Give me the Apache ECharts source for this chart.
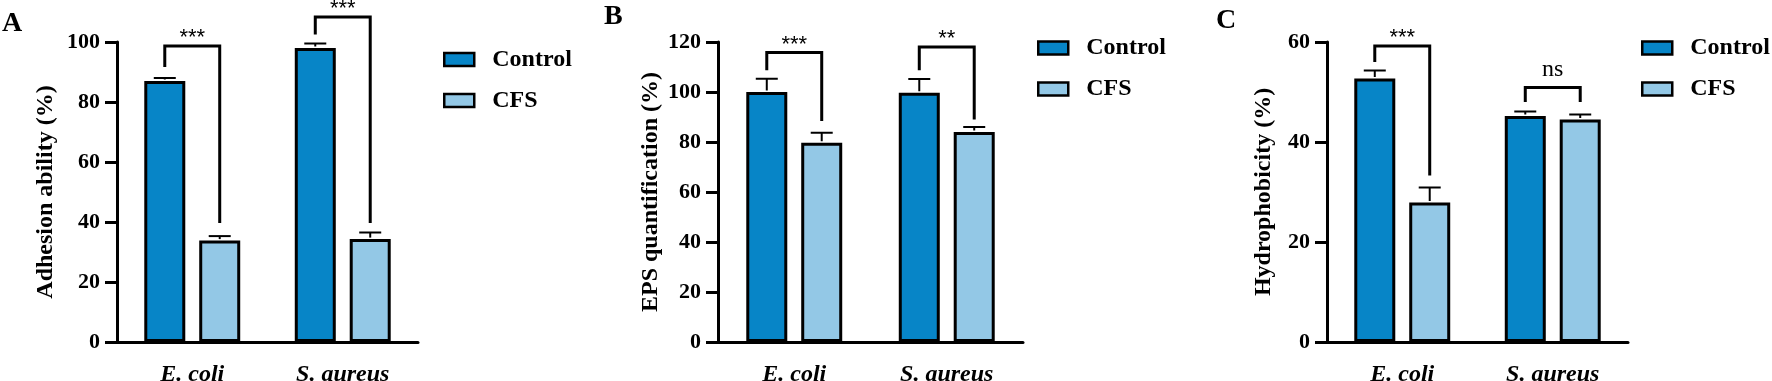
<!DOCTYPE html>
<html lang="en">

<head>
    <meta charset="UTF-8">
    <title>Adhesion, EPS and hydrophobicity</title>
    <script src="https://cdn.jsdelivr.net/npm/echarts@6/dist/echarts.min.js"></script>
    <style>
        body {
            margin: 0;
            background: #fff;
        }

        #root {
            width: 1772px;
            height: 381px;
        }
    </style>
</head>

<body>

    <div id="root"></div>
    <script>

        var categories = ['E. coli', 'S. aureus'];
        var seriesNames = ['Control', 'CFS'];

        // A: adhesion ability (%)
        var adhesionControl = [87, 98];
        var adhesionControlErr = [1, 1.5];
        var adhesionCFS = [33.8, 34.3];
        var adhesionCFSErr = [1.5, 2.2];
        // [top, left leg end, right leg end]
        var adhesionBrackets = [[98.7, 91.7, 39.7], [108.3, 102.5, 39.7]];
        var adhesionSig = ['***', '***'];
        var adhesionTicks = [0, 100, 20];

        // B: EPS quantification (%)
        var epsControl = [100, 99.7];
        var epsControlErr = [5.3, 5.5];
        var epsCFS = [79.7, 84];
        var epsCFSErr = [4, 2];
        var epsBrackets = [[115.8, 108.7, 88.4], [118, 108.7, 89]];
        var epsSig = ['***', '**'];
        var epsTicks = [0, 120, 20];

        // C: hydrophobicity (%)
        var hydroControl = [52.7, 45.2];
        var hydroControlErr = [1.6, 0.9];
        var hydroCFS = [27.9, 44.5];
        var hydroCFSErr = [3, 1];
        var hydroBrackets = [[59.2, 56, 33.3], [50.9, 48, 48]];
        var hydroSig = ['***', 'ns'];
        var hydroTicks = [0, 60, 20];

        var BAR_W = 41;
        var BAR_GAP = 0.34;
        var BAR_STEP = BAR_W * (1 + BAR_GAP);
        var CAP = 22;
        var SERIF = '"Liberation Serif", "Times New Roman", serif';
        var colors = ['#0785c7', '#93c8e6'];

        var mychart = echarts.init(document.getElementById("root"));

        var panels = [
            { left: 117, width: 301, name: 'Adhesion ability (%)', gap: 59, ticks: adhesionTicks,
              ctrl: adhesionControl, ctrlErr: adhesionControlErr, cfs: adhesionCFS, cfsErr: adhesionCFSErr,
              brackets: adhesionBrackets, sig: adhesionSig, legendLeft: 443, legendTop: 47.5, letter: 'A', letterX: 2, letterY: 10 },
            { left: 718, width: 305, name: 'EPS quantification (%)', gap: 55, ticks: epsTicks,
              ctrl: epsControl, ctrlErr: epsControlErr, cfs: epsCFS, cfsErr: epsCFSErr,
              brackets: epsBrackets, sig: epsSig, legendLeft: 1037, legendTop: 36, letter: 'B', letterX: 604, letterY: 3 },
            { left: 1327, width: 301, name: 'Hydrophobicity (%)', gap: 51, ticks: hydroTicks,
              ctrl: hydroControl, ctrlErr: hydroControlErr, cfs: hydroCFS, cfsErr: hydroCFSErr,
              brackets: hydroBrackets, sig: hydroSig, legendLeft: 1641, legendTop: 36, letter: 'C', letterX: 1216, letterY: 7 }
        ];

        var grid = [], xAxis = [], yAxis = [], series = [], legend = [], graphic = [];

        panels.forEach(function (p, k) {
            // keep the plot box fixed; the category labels may touch the bottom edge like in the figure
            grid.push({ left: p.left, width: p.width, top: 42, height: 300, outerBoundsMode: 'none' });

            xAxis.push({
                type: 'category',
                gridIndex: k,
                data: categories,
                axisLine: { lineStyle: { color: '#000', width: 3 } },
                axisTick: { alignWithLabel: true, length: 12, lineStyle: { color: '#000', width: 3 } },
                axisLabel: { color: '#000', fontFamily: SERIF, fontWeight: 'bold', fontStyle: 'italic', fontSize: 24, margin: 21 }
            });

            yAxis.push({
                type: 'value',
                gridIndex: k,
                min: p.ticks[0],
                max: p.ticks[1],
                interval: p.ticks[2],
                name: p.name,
                nameLocation: 'middle',
                nameGap: p.gap,
                nameTextStyle: { color: '#000', fontFamily: SERIF, fontWeight: 'bold', fontSize: 24 },
                axisLine: { show: true, lineStyle: { color: '#000', width: 3 } },
                axisTick: { show: true, length: 12, lineStyle: { color: '#000', width: 3 } },
                axisLabel: { color: '#000', fontFamily: SERIF, fontWeight: 'bold', fontSize: 22, margin: 17 },
                splitLine: { show: false }
            });

            [p.ctrl, p.cfs].forEach(function (vals, s) {
                series.push({
                    type: 'bar',
                    name: seriesNames[s],
                    xAxisIndex: k,
                    yAxisIndex: k,
                    data: vals,
                    barWidth: BAR_W,
                    barGap: (BAR_GAP * 100) + '%',
                    itemStyle: { color: colors[s], borderColor: '#000', borderWidth: 3 },
                    z: 2
                });
            });

            // error bars (only upward, as in the figure)
            var errRows = [];
            categories.forEach(function (c, i) {
                errRows.push([i, p.ctrl[i], p.ctrlErr[i], 0]);
                errRows.push([i, p.cfs[i], p.cfsErr[i], 1]);
            });
            series.push({
                type: 'custom',
                xAxisIndex: k,
                yAxisIndex: k,
                data: errRows,
                encode: { x: 0, y: 1 },
                silent: true,
                z: 3,
                renderItem: function (params, api) {
                    var base = api.coord([api.value(0), api.value(1)]);
                    var top = api.coord([api.value(0), api.value(1) + api.value(2)]);
                    var x = base[0] + (api.value(3) ? 1 : -1) * BAR_STEP / 2;
                    var st = { stroke: '#000', lineWidth: 2 };
                    return {
                        type: 'group',
                        children: [
                            { type: 'line', shape: { x1: x, y1: base[1] - 1.5, x2: x, y2: top[1] }, style: st },
                            { type: 'line', shape: { x1: x - CAP / 2, y1: top[1], x2: x + CAP / 2, y2: top[1] }, style: st }
                        ]
                    };
                }
            });

            // significance brackets
            var sig = p.sig;
            series.push({
                type: 'custom',
                xAxisIndex: k,
                yAxisIndex: k,
                data: p.brackets.map(function (b, i) { return [i, b[0], b[1], b[2]]; }),
                encode: { x: 0, y: 1 },
                silent: true,
                clip: false,
                z: 4,
                renderItem: function (params, api) {
                    var c = api.coord([api.value(0), api.value(1)]);
                    var yL = api.coord([api.value(0), api.value(2)])[1];
                    var yR = api.coord([api.value(0), api.value(3)])[1];
                    var xL = c[0] - BAR_STEP / 2;
                    var xR = c[0] + BAR_STEP / 2;
                    var label = sig[params.dataIndex];
                    var isNs = label === 'ns';
                    return {
                        type: 'group',
                        children: [
                            {
                                type: 'polyline',
                                shape: { points: [[xL, yL], [xL, c[1]], [xR, c[1]], [xR, yR]] },
                                style: { stroke: '#000', lineWidth: 3, fill: null }
                            },
                            {
                                type: 'text',
                                x: c[0],
                                y: c[1] - (isNs ? 18 : 8),
                                style: {
                                    text: label,
                                    fill: '#000',
                                    font: isNs ? ('24px ' + SERIF) : '22px "Liberation Sans", Arial, sans-serif',
                                    align: 'center',
                                    verticalAlign: 'middle'
                                }
                            }
                        ]
                    };
                }
            });

            legend.push({
                data: seriesNames,
                orient: 'vertical',
                left: p.legendLeft,
                top: p.legendTop,
                padding: 0,
                icon: 'rect',
                itemWidth: 30,
                itemHeight: 13,
                itemGap: 17,
                itemStyle: { borderColor: '#000', borderWidth: 2.5 },
                textStyle: { color: '#000', fontFamily: SERIF, fontWeight: 'bold', fontSize: 24, lineHeight: 24, padding: [0, 0, 0, 13] },
                selectedMode: false
            });

            graphic.push({
                type: 'text',
                left: p.letterX,
                top: p.letterY,
                style: { text: p.letter, fill: '#000', font: 'bold 28px ' + SERIF }
            });
        });

        mychart.setOption({
            animation: false,
            grid: grid,
            xAxis: xAxis,
            yAxis: yAxis,
            legend: legend,
            graphic: graphic,
            series: series
        });

    </script>

</body>

</html>
